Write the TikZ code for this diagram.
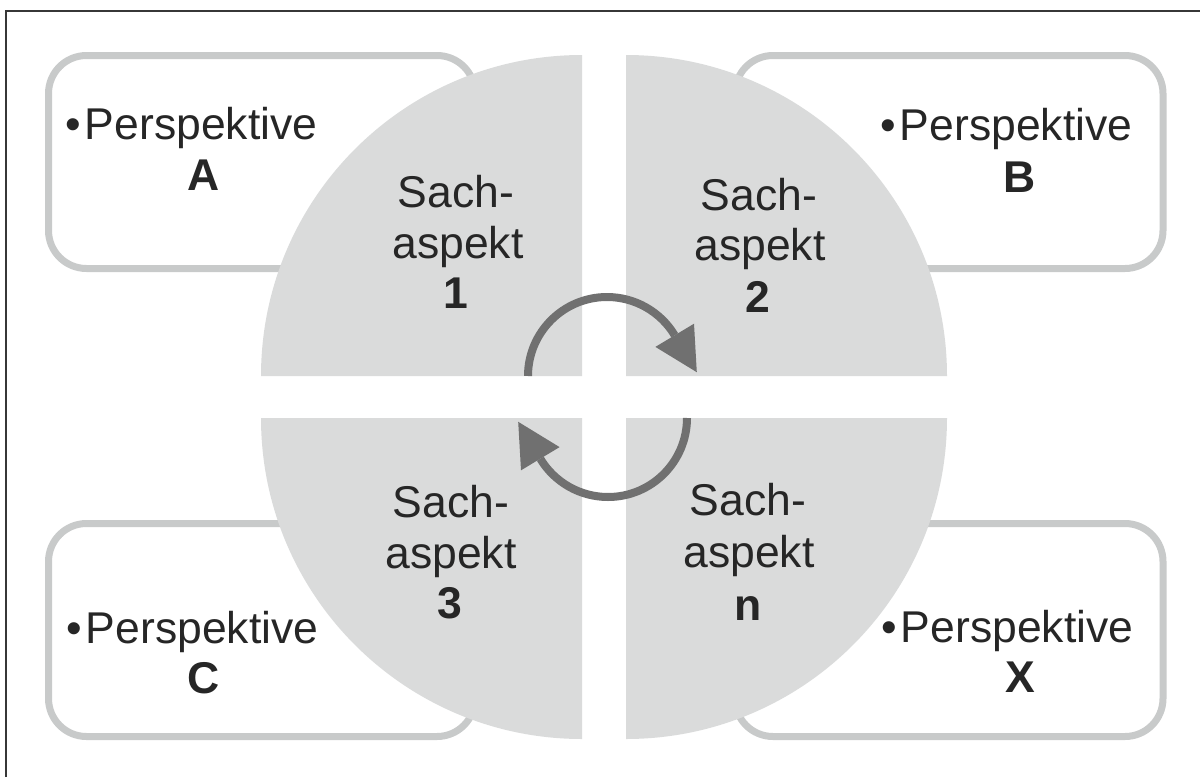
\documentclass[tikz,border=0pt]{standalone}
\usepackage{fontspec}
\setmainfont{Liberation Sans}
\definecolor{quad}{RGB}{218,219,219}
\definecolor{boxline}{RGB}{200,202,202}
\definecolor{arrowc}{RGB}{112,112,112}
\definecolor{txt}{RGB}{38,38,38}
\definecolor{framec}{RGB}{55,55,55}
\begin{document}
\begin{tikzpicture}[x=0.5pt,y=-0.5pt,
  pbox/.style={draw=boxline, line width=3.5pt, rounded corners=19pt, fill=white},
  quadrant/.style={fill=quad, draw=none},
  lbl/.style={font=\fontsize{22.25}{26}\selectfont, text=txt, inner sep=0pt, anchor=base},
  lblb/.style={lbl, font=\fontsize{22.25}{26}\selectfont\bfseries},
  persp/.style={lbl, anchor=base west},
  cyc/.style={draw=arrowc, line width=4pt},
  cychead/.style={fill=arrowc, draw=none}]
\useasboundingbox (0,0) rectangle (1200,777);
\draw[framec, line width=1pt] (6,777) -- (6,11) -- (1200,11);
% perspective boxes
\path[pbox] (48.5,55.5) rectangle (475,268.5);
\path[pbox] (735,55.5) rectangle (1163,268.5);
\path[pbox] (48.5,523.5) rectangle (475,736.5);
\path[pbox] (735,523.5) rectangle (1163,736.5);
% quadrants
\path[quadrant] (582,376) -- ++(-321,0) arc[start angle=180,end angle=270,radius=321] -- cycle;
\path[quadrant] (626,376) -- ++(0,-321) arc[start angle=270,end angle=360,radius=321] -- cycle;
\path[quadrant] (582,418) -- ++(-321,0) arc[start angle=180,end angle=90,radius=321] -- cycle;
\path[quadrant] (626,418) -- ++(321,0) arc[start angle=0,end angle=90,radius=321] -- cycle;
% cycle arrows
\coordinate (u0) at (528,376);
\coordinate (l0) at (687,418);
\draw[cyc] (u0) arc[start angle=180,end angle=329,radius=79] coordinate (u1);
\fill[cychead] (694,323.7) -- (696.8,372.2) -- (655.4,346.9) -- cycle;
\draw[cyc] (l0) arc[start angle=0,end angle=149,radius=79] coordinate (l1);
\fill[cychead] (521,470.3) -- (518.2,421.8) -- (559.6,447.1) -- cycle;
% quadrant labels
\node[lbl] (s1a) at (456,207) {Sach-};
\node[lbl] (s1b) at (458,258) {aspekt};
\node[lblb] (s1c) at (456,308) {1};
\node[lbl] (s2a) at (759,210) {Sach-};
\node[lbl] (s2b) at (760,260) {aspekt};
\node[lblb] (s2c) at (758,312) {2};
\node[lbl] (s3a) at (451,517) {Sach-};
\node[lbl] (s3b) at (451,568) {aspekt};
\node[lblb] (s3c) at (450,618) {3};
\node[lbl] (sna) at (748,515) {Sach-};
\node[lbl] (snb) at (749,567) {aspekt};
\node[lblb] (snc) at (748,620) {n};
% perspective labels
\node[persp] (pA) at (65.4,139) {•\kern1.8pt Perspektive};
\node[lblb] (lA) at (204,190) {A};
\node[persp] (pB) at (880.4,140) {•\kern1.8pt Perspektive};
\node[lblb] (lB) at (1020,192) {B};
\node[persp] (pC) at (66.4,643) {•\kern1.8pt Perspektive};
\node[lblb] (lC) at (204,693) {C};
\node[persp] (pX) at (881.4,642) {•\kern1.8pt Perspektive};
\node[lblb] (lX) at (1020,692) {X};
\end{tikzpicture}
\end{document}
